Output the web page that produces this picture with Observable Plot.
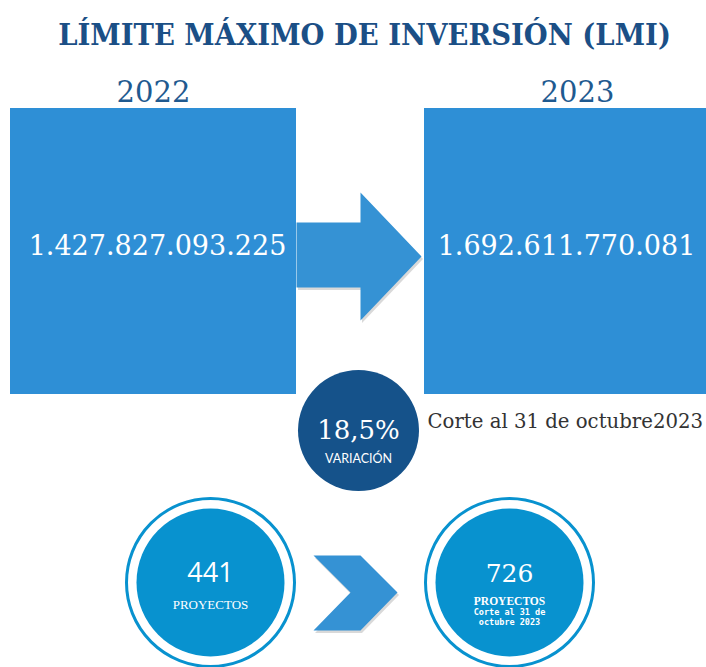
<!DOCTYPE html>
<html>
<head>
<meta charset="utf-8">
<script src="https://cdn.jsdelivr.net/npm/d3@7"></script>
<script src="https://cdn.jsdelivr.net/npm/@observablehq/plot@0.6"></script>
<style>
  html, body { margin: 0; padding: 0; background: #ffffff; }
  #chart svg { display: block; }
</style>
</head>
<body>
<div id="chart"></div>
<script>
// ---------- DATA ----------
const title = "LÍMITE MÁXIMO DE INVERSIÓN (LMI)";
const years = ["2022", "2023"];
const lmiValues = [1427827093225, 1692611770081];
const variationPct = [18.5];
const variationLabel = ["VARIACIÓN"];
const cutoffNote = ["Corte al 31 de octubre2023"];
const projects = [441, 726];
const projectLabel = ["PROYECTOS", "PROYECTOS"];
const projectNote = [["", ""], ["Corte al 31 de", "octubre 2023"]];

// ---------- LAYOUT ----------
const W = 706, H = 667;
const boxX = [[10, 296], [424, 706]];
const boxY = [108, 394];
const yearX = [153, 577];
const valueX = [157, 566];
const circleCX = [210, 509];
const circleCY = 582;
const varC = {x: 358, y: 430};
const arrowPts = [[296,222],[360,222],[360,192],[421,256],[360,320],[360,287],[296,287],[296,222]];
const chevronPts = [[313,555],[360,555],[397,592],[360,630],[313,630],[350,592],[313,555]];

const esLocale = d3.formatLocale({decimal: ",", thousands: ".", grouping: [3], currency: ["$", ""]});
const fmtInt = esLocale.format(",d");

const boxes = years.map((y, i) => ({year: y, value: lmiValues[i], x1: boxX[i][0], x2: boxX[i][1], y1: boxY[0], y2: boxY[1], yx: yearX[i], vx: valueX[i]}));
const circ = projects.map((p, i) => ({p, label: projectLabel[i], note: projectNote[i], cx: circleCX[i]}));
const arrow = arrowPts.map(([x, y]) => ({x, y}));
const chevron = chevronPts.map(([x, y]) => ({x, y}));
const shadow = (pts, dx, dy) => pts.map(d => ({x: d.x + dx, y: d.y + dy}));

const serif = "'DejaVu Serif', serif";
const blueBox = "#2e8fd6";
const blueArrow = "#3592d4";
const navy = "#15528a";
const cyan = "#0892cf";
const titleColor = "#1b4f86";

const chart = Plot.plot({
  width: W,
  height: H,
  margin: 0,
  x: {domain: [0, W], range: [0, W], axis: null},
  y: {domain: [0, H], range: [0, H], axis: null},
  marks: [
    // title
    Plot.text([title], {x: () => 364, y: () => 35, text: d => d, fontFamily: "'DejaVu Serif Condensed', 'DejaVu Serif', serif", fontWeight: "bold", fontSize: 30.5, fill: titleColor}),
    // year labels
    Plot.text(boxes, {x: "yx", y: () => 92, text: "year", fontFamily: serif, fontSize: 29, fill: "#1f5a90"}),
    // boxes
    Plot.rect(boxes, {x1: "x1", x2: "x2", y1: "y1", y2: "y2", fill: blueBox}),
    Plot.text(boxes, {x: "vx", y: () => 246, text: d => fmtInt(d.value), fontFamily: serif, fontSize: 27, fill: "white"}),
    // arrow shadow + arrow
    Plot.line(shadow(arrow, 1.5, 2.5), {x: "x", y: "y", fill: "#000", fillOpacity: 0.15, stroke: "none"}),
    Plot.line(arrow, {x: "x", y: "y", fill: blueArrow, stroke: "none"}),
    // variation circle
    Plot.dot(variationPct, {x: () => varC.x, y: () => varC.y, r: 60.5, fill: navy, stroke: "none"}),
    Plot.text(variationPct, {x: () => varC.x, y: () => 430, text: d => esLocale.format(".1f")(d) + "%", fontFamily: serif, fontSize: 26, fill: "white"}),
    Plot.text(variationLabel, {x: () => varC.x, y: () => 458, text: d => d, fontFamily: "Lato, sans-serif", fontSize: 12.5, fill: "white"}),
    Plot.text(cutoffNote, {x: () => 427, y: () => 421, text: d => d, textAnchor: "start", fontFamily: serif, fontSize: 19.7, fill: "#333333"}),
    // project circles
    Plot.dot(circ, {x: "cx", y: () => circleCY, r: 84, fill: "white", stroke: cyan, strokeWidth: 3}),
    Plot.dot(circ, {x: "cx", y: () => circleCY, r: 74, fill: cyan, stroke: "none"}),
    Plot.text(circ.slice(0, 1), {x: "cx", y: () => 573, text: d => String(d.p), fontFamily: "'Open Sans', sans-serif", fontSize: 27, fill: "white"}),
    Plot.text(circ.slice(1), {x: "cx", y: () => 573, text: d => String(d.p), fontFamily: serif, fontSize: 25, fill: "white"}),
    Plot.text(circ.slice(0, 1), {x: "cx", y: () => 604, text: "label", fontFamily: "'Liberation Serif', serif", fontSize: 13, fill: "white"}),
    Plot.text(circ.slice(1), {x: "cx", y: () => 601, text: "label", fontFamily: "'Liberation Serif', serif", fontWeight: "bold", fontSize: 11.5, fill: "white"}),
    Plot.text(circ.slice(1), {x: "cx", y: () => 611.5, text: d => d.note[0], fontFamily: "'DejaVu Sans Mono', monospace", fontWeight: "bold", fontSize: 8.5, fill: "white"}),
    Plot.text(circ.slice(1), {x: "cx", y: () => 621.5, text: d => d.note[1], fontFamily: "'DejaVu Sans Mono', monospace", fontWeight: "bold", fontSize: 8.5, fill: "white"}),
    // chevron shadow + chevron
    Plot.line(shadow(chevron, 1.5, 2.5), {x: "x", y: "y", fill: "#000", fillOpacity: 0.15, stroke: "none"}),
    Plot.line(chevron, {x: "x", y: "y", fill: blueArrow, stroke: "none"})
  ]
});
document.getElementById("chart").appendChild(chart);
</script>
</body>
</html>
